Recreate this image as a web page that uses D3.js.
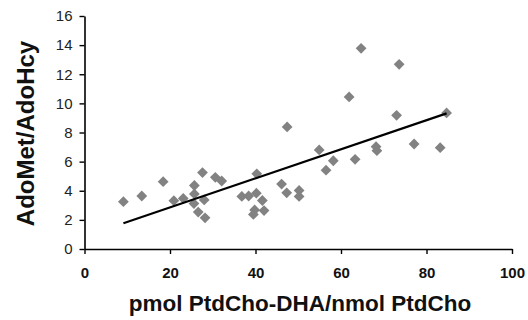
<!DOCTYPE html>
<html>
<head>
<meta charset="utf-8">
<script src="https://cdn.jsdelivr.net/npm/d3@7"></script>
<style>
  html, body { margin: 0; padding: 0; background: #fff; }
  svg { display: block; font-family: "Liberation Sans", Arial, sans-serif; }
</style>
</head>
<body>
<div id="chart"></div>
<script>
// pmol PtdCho-DHA / nmol PtdCho
const dhaValues = [
  9.1, 13.4, 18.4, 20.9, 23.1, 25.7, 25.7, 27.6, 28.0, 26.6,
  28.2, 30.6, 32.1, 36.8, 38.4, 40.3, 40.2, 41.6, 39.8, 39.5,
  42.0, 47.4, 46.1, 47.3, 50.2, 50.2, 64.7, 73.6, 61.9, 73.0,
  84.7, 54.9, 58.2, 56.5, 63.3, 68.2, 68.4, 77.1, 83.2, 25.6
];
// AdoMet/AdoHcy ratio
const ratioValues = [
  3.25, 3.64, 4.62, 3.32, 3.47, 3.78, 4.36, 5.25, 3.37, 2.54,
  2.14, 4.92, 4.67, 3.61, 3.64, 5.16, 3.83, 3.33, 2.68, 2.37,
  2.64, 8.38, 4.46, 3.86, 4.02, 3.61, 13.78, 12.68, 10.44, 9.18,
  9.34, 6.80, 6.06, 5.41, 6.16, 7.03, 6.75, 7.21, 6.96, 3.12
];
const xTicks = [0, 20, 40, 60, 80, 100];
const yTicks = [0, 2, 4, 6, 8, 10, 12, 14, 16];
// linear trend line as drawn in the figure
const trendSlope = 0.0998;
const trendIntercept = 0.86;

const width = 528;
const height = 320;

const svg = d3.select("#chart")
  .append("svg")
  .attr("width", width)
  .attr("height", height)
  .attr("viewBox", [0, 0, width, height]);

const x = d3.scaleLinear().domain([0, 100]).range([84.5, 512]);
const y = d3.scaleLinear().domain([0, 16]).range([249, 16]);

// x axis
const gx = svg.append("g")
  .attr("transform", `translate(0,${y(0)})`)
  .call(d3.axisBottom(x).tickValues(xTicks).tickSize(5).tickPadding(13).tickSizeOuter(0));
gx.select(".domain").attr("stroke", "#000").attr("stroke-width", 1.6);
gx.selectAll(".tick line").attr("stroke", "#000").attr("stroke-width", 1.4);
gx.selectAll(".tick text")
  .attr("fill", "#111")
  .attr("font-size", 15)
  .attr("font-weight", "bold")
  .attr("font-family", "Liberation Sans, Arial, sans-serif");

// y axis
const gy = svg.append("g")
  .attr("transform", `translate(${x(0)},0)`)
  .call(d3.axisLeft(y).tickValues(yTicks).tickSize(5).tickPadding(7).tickSizeOuter(0));
gy.select(".domain").attr("stroke", "#000").attr("stroke-width", 1.6);
gy.selectAll(".tick line").attr("stroke", "#000").attr("stroke-width", 1.4);
gy.selectAll(".tick text")
  .attr("fill", "#222")
  .attr("font-size", 15)
  .attr("font-family", "Liberation Sans, Arial, sans-serif");

// points
const points = dhaValues.map((d, i) => ({ x: d, y: ratioValues[i] }));
const diamond = d3.symbol().type(d3.symbolSquare).size(58);

svg.append("g")
  .selectAll("path")
  .data(points)
  .join("path")
  .attr("d", diamond)
  .attr("transform", (d) => `translate(${x(d.x)},${y(d.y)}) rotate(45)`)
  .attr("fill", "#828282");

// trend line
const xMin = d3.min(dhaValues);
const xMax = d3.max(dhaValues);
svg.append("line")
  .attr("x1", x(xMin))
  .attr("y1", y(trendIntercept + trendSlope * xMin))
  .attr("x2", x(xMax))
  .attr("y2", y(trendIntercept + trendSlope * xMax))
  .attr("stroke", "#000")
  .attr("stroke-width", 2.2);

// axis titles
svg.append("text")
  .attr("x", 300)
  .attr("y", 311)
  .attr("text-anchor", "middle")
  .attr("font-size", 22.5)
  .attr("font-weight", "bold")
  .attr("fill", "#111")
  .text("pmol PtdCho-DHA/nmol PtdCho");

svg.append("text")
  .attr("transform", "translate(34,133.5) rotate(-90)")
  .attr("text-anchor", "middle")
  .attr("font-size", 24)
  .attr("font-weight", "bold")
  .attr("fill", "#111")
  .text("AdoMet/AdoHcy");
</script>
</body>
</html>
